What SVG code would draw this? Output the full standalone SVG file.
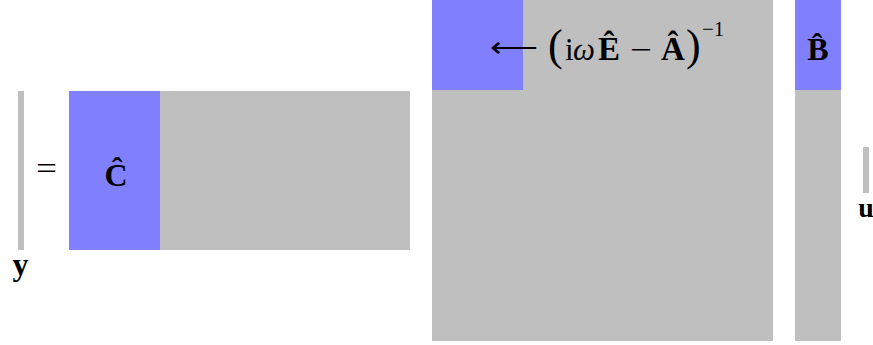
<svg xmlns="http://www.w3.org/2000/svg" width="873" height="345" viewBox="0 0 873 345">
<style>
.g{fill:#bfbfbf}
.b{fill:#8080ff}
.t{font-family:"Liberation Serif",serif;fill:#000}
.bd{font-weight:bold}
</style>
<rect width="873" height="345" fill="#fff"/>
<g id="y">
<rect class="g" x="18" y="91" width="6" height="159"/>
<text class="t bd" x="20.5" y="275" font-size="32" text-anchor="middle">y</text>
</g>
<g id="eq">
<text class="t" x="46.5" y="179" font-size="32" text-anchor="middle" textLength="21" lengthAdjust="spacingAndGlyphs">=</text>
</g>
<g id="C">
<rect class="g" x="69" y="91" width="341" height="159"/>
<rect class="b" x="69" y="91" width="91" height="159"/>
<text class="t bd" x="116" y="186" font-size="32" text-anchor="middle">Ĉ</text>
</g>
<g id="A">
<rect class="g" x="432" y="0" width="341" height="341"/>
<rect class="b" x="432" y="0" width="91" height="90"/>
<text class="t" x="513.5" y="57" font-size="30" text-anchor="middle" textLength="48" lengthAdjust="spacingAndGlyphs">⟵</text>
<text class="t" x="548" y="60" font-size="44">(</text>
<text class="t" x="565" y="60" font-size="31">i</text>
<text class="t" x="573" y="60" font-size="31" font-style="italic">ω</text>
<text class="t bd" x="598" y="60" font-size="33">Ê</text>
<text class="t" x="641" y="60" font-size="31" text-anchor="middle" textLength="22" lengthAdjust="spacingAndGlyphs">−</text>
<text class="t bd" x="661" y="60" font-size="33">Â</text>
<text class="t" x="686" y="60" font-size="44">)</text>
<text class="t" x="702" y="36" font-size="21">−1</text>
</g>
<g id="B">
<rect class="g" x="795" y="0" width="46" height="341"/>
<rect class="b" x="795" y="0" width="46" height="90"/>
<text class="t bd" x="818" y="60" font-size="32" text-anchor="middle">B̂</text>
</g>
<g id="u">
<rect class="g" x="863" y="147" width="6" height="46"/>
<text class="t bd" x="866" y="217" font-size="28" text-anchor="middle">u</text>
</g>
<g id="connectors"></g>
</svg>
